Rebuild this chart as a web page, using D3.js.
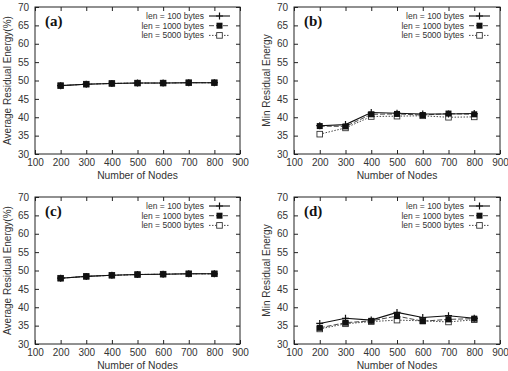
<!DOCTYPE html>
<html><head><meta charset="utf-8">
<script src="https://cdn.jsdelivr.net/npm/d3@7"></script>
<style>body{margin:0;background:#fff}svg{display:block}</style>
</head><body>
<svg id="c" width="508" height="371"></svg>
<script>
const nodes = [200, 300, 400, 500, 600, 700, 800];
const xTicks = [100, 200, 300, 400, 500, 600, 700, 800, 900];
const yTicks = [30, 35, 40, 45, 50, 55, 60, 65, 70];
const seriesNames = ["len = 100 bytes", "len = 1000 bytes", "len = 5000 bytes"];
const panelLabels = ["(a)", "(b)", "(c)", "(d)"];
const yTitles = ["Average Residual Energy(%)", "Min Residual Energy", "Average Residual Energy(%)", "Min Residual Energy"];
const xTitle = "Number of Nodes";

const a100 = [48.6, 49.0, 49.2, 49.3, 49.3, 49.4, 49.4];
const a1000 = [48.6, 49.0, 49.2, 49.3, 49.3, 49.4, 49.4];
const a5000 = [48.6, 49.0, 49.2, 49.3, 49.3, 49.4, 49.4];
const b100 = [37.7, 38.0, 41.3, 41.1, 40.9, 40.9, 41.0];
const b1000 = [37.6, 37.5, 40.8, 40.9, 40.6, 41.0, 40.8];
const b5000 = [35.4, 37.1, 40.2, 40.3, 40.4, 40.0, 40.1];
const c100 = [47.9, 48.4, 48.7, 48.9, 49.0, 49.1, 49.1];
const c1000 = [47.9, 48.4, 48.7, 48.9, 49.0, 49.1, 49.1];
const c5000 = [47.9, 48.4, 48.7, 48.9, 49.0, 49.1, 49.1];
const d100 = [35.6, 37.0, 36.5, 38.6, 37.2, 37.7, 37.0];
const d1000 = [34.4, 35.8, 36.3, 37.6, 36.2, 36.7, 36.9];
const d5000 = [34.1, 35.5, 36.1, 36.5, 36.3, 36.0, 36.6];

const panels = [
  {x0: 35, x1: 240, y0: 7, y1: 154, series: [a100, a1000, a5000], yt: 8},
  {x0: 294, x1: 500, y0: 7, y1: 154, series: [b100, b1000, b5000], yt: 267},
  {x0: 35, x1: 240, y0: 197, y1: 344, series: [c100, c1000, c5000], yt: 8},
  {x0: 294, x1: 500, y0: 197, y1: 344, series: [d100, d1000, d5000], yt: 267}
];
const dashes = [null, "5,2", "1.5,1.5"];
const svg = d3.select("#c");
const font = "Liberation Sans, Arial, sans-serif";

function marker(g, type, cx, cy) {
  if (type === 0) {
    g.append("path").attr("d", `M${cx-3.5},${cy}H${cx+3.5}M${cx},${cy-3.5}V${cy+3.5}`)
      .attr("stroke", "#111").attr("stroke-width", 1.2);
  } else if (type === 1) {
    g.append("rect").attr("x", cx-3).attr("y", cy-3).attr("width", 6).attr("height", 6).attr("fill", "#111");
  } else {
    g.append("rect").attr("x", cx-2.8).attr("y", cy-2.8).attr("width", 5.6).attr("height", 5.6)
      .attr("fill", "#fff").attr("stroke", "#333").attr("stroke-width", 0.9);
  }
}

panels.forEach((p, pi) => {
  const x = d3.scaleLinear().domain([100, 900]).range([p.x0, p.x1]);
  const y = d3.scaleLinear().domain([30, 70]).range([p.y1, p.y0]);
  const g = svg.append("g");
  const ax = (gen, tr) => g.append("g").attr("transform", tr).call(gen)
    .call(s => s.select(".domain").remove())
    .call(s => s.selectAll("line").attr("stroke", "#222"))
    .call(s => s.selectAll("text").attr("font-family", font).attr("font-size", 10).attr("fill", "#333"));
  ax(d3.axisBottom(x).tickValues(xTicks).tickSize(-4).tickPadding(5), `translate(0,${p.y1})`);
  ax(d3.axisTop(x).tickValues(xTicks).tickSize(-4).tickFormat(""), `translate(0,${p.y0})`);
  ax(d3.axisLeft(y).tickValues(yTicks).tickSize(-4).tickPadding(6), `translate(${p.x0},0)`);
  ax(d3.axisRight(y).tickValues(yTicks).tickSize(-4).tickFormat(""), `translate(${p.x1},0)`);
  g.append("rect").attr("x", p.x0).attr("y", p.y0).attr("width", p.x1 - p.x0).attr("height", p.y1 - p.y0)
    .attr("fill", "none").attr("stroke", "#222").attr("stroke-width", 1);
  g.append("text").attr("x", (p.x0 + p.x1) / 2).attr("y", p.y1 + 25).attr("text-anchor", "middle")
    .attr("font-family", font).attr("font-size", 10.3).attr("fill", "#333").text(xTitle);
  g.append("text").attr("transform", `translate(${p.yt + 3},${(p.y0 + p.y1) / 2}) rotate(-90)`)
    .attr("text-anchor", "middle").attr("font-family", font).attr("font-size", 10).attr("fill", "#333").text(yTitles[pi]);
  g.append("text").attr("x", p.x0 + 10).attr("y", p.y0 + 19).attr("font-family", "Liberation Serif, Times New Roman, serif")
    .attr("font-weight", "bold").attr("font-size", 15).attr("fill", "#111").text(panelLabels[pi]);
  const line = d3.line().x((d, i) => x(nodes[i])).y(d => y(d));
  [2, 1, 0].forEach(si => {
    const vals = p.series[si];
    g.append("path").datum(vals).attr("d", line).attr("fill", "none")
      .attr("stroke", si === 0 ? "#111" : "#333").attr("stroke-width", si === 0 ? 1.1 : 0.9)
      .attr("stroke-dasharray", dashes[si]);
    vals.forEach((v, i) => marker(g, si, x(nodes[i]), y(v)));
  });
  const lx1 = p.x1 - 10, lx0 = lx1 - 21;
  seriesNames.forEach((name, si) => {
    const ly = p.y0 + 9 + si * 9.7;
    g.append("text").attr("x", lx0 - 5).attr("y", ly + 3).attr("text-anchor", "end")
      .attr("font-family", font).attr("font-size", 8.5).attr("fill", "#333").text(name);
    g.append("line").attr("x1", lx0).attr("x2", lx1).attr("y1", ly).attr("y2", ly)
      .attr("stroke", si === 0 ? "#111" : "#333").attr("stroke-width", si === 0 ? 1.1 : 0.9)
      .attr("stroke-dasharray", dashes[si]);
    marker(g, si, (lx0 + lx1) / 2, ly);
  });
});
</script>
</body></html>
